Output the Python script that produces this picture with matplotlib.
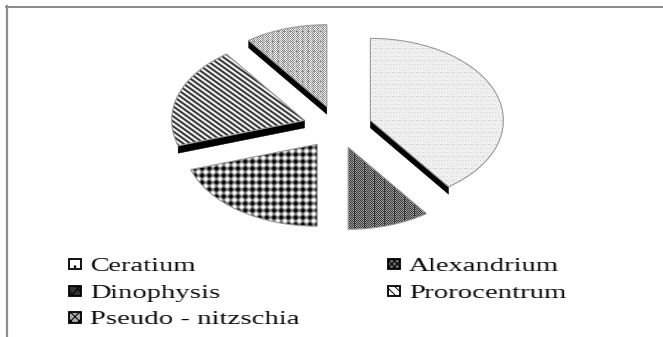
import numpy as np
import matplotlib
matplotlib.use('Agg')
import matplotlib.pyplot as plt
from matplotlib.lines import Line2D
from matplotlib.patches import Patch, Polygon

plt.rcParams['font.family'] = ['Liberation Serif', 'DejaVu Serif']
plt.rcParams['hatch.linewidth'] = 0.7

species = ['Ceratium', 'Alexandrium', 'Dinophysis', 'Prorocentrum', 'Pseudo - nitzschia']
share = [40, 10, 20, 20, 10]
gap = [0.26, 0.26, 0.26, 0.26, 0.26]

W, H = 663, 337
RX, RY = 133.0, 82.0
CX, CY = 337.5, 127.0


def widen(img, dpi):
    # legend text is set wide, stretch the drawn glyphs sideways
    h, w, d = img.shape
    new_w = int(w * 1.47)
    pos = np.linspace(0, w - 1, new_w)
    out = np.zeros((h, new_w, d), dtype=img.dtype)
    for row in range(h):
        for c in range(d):
            out[row, :, c] = np.interp(pos, np.arange(w), img[row, :, c])
    return out, 0, 0


# pixel textures for the slices
yy, xx = np.mgrid[0:H, 0:W]

tex_cer = np.full((H, W), 242.0)
tex_cer[(yy % 4 == 0) & (xx % 3 == 0)] = 205
tex_cer[(yy % 4 == 2) & (xx % 3 == 1)] = 222
tex_cer[(yy % 12 == 0) & (xx % 2 == 0)] = 215

tex_alx = 105 + 45 * ((xx + yy) % 2 * 2 - 1.0) + 8 * np.cos(2 * np.pi * yy / 3)
tex_alx[(xx % 10 == 3) & (yy % 2 == 0)] = 175
tex_alx[(xx % 10 == 4) & (yy % 2 == 1)] = 45

a = 0.5 + 0.5 * np.cos(2 * np.pi * xx / 7.2)
b = 0.5 + 0.5 * np.cos(2 * np.pi * yy / 7.0)
tex_din = 255 * (1 - np.clip((a + b) * 0.62 - 0.12, 0, 1))

tex_pro = 150 + 105 * np.cos(2 * np.pi * (xx / 7.0 - yy / 5.0))

tex_pse = 190 + 42 * ((xx + yy) % 2 * 2 - 1.0) + 14 * np.cos(2 * np.pi * xx / 5)
tex_pse[(xx % 6 == 2) & (yy % 5 == 1)] = 105

textures = [tex_cer, tex_alx, tex_din, tex_pro, tex_pse]

fig = plt.figure(figsize=(W / 100, H / 100), dpi=100, facecolor='white')
ax = fig.add_axes([0, 0, 1, 1])

wedges, _ = ax.pie(share, explode=gap, startangle=90, counterclock=False,
                   wedgeprops={'facecolor': 'none', 'edgecolor': '#999999',
                               'linewidth': 0.8, 'zorder': 4})
ax.set_aspect('auto')
xlim = (-CX / RX, (W - CX) / RX)
ylim = (-(H - CY) / RY, CY / RY)

for w, tex in zip(wedges, textures):
    im = ax.imshow(tex, cmap='gray', vmin=0, vmax=255, interpolation='nearest',
                   extent=(xlim[0], xlim[1], ylim[0], ylim[1]), origin='upper',
                   aspect='auto', zorder=3)
    im.set_clip_path(w)

# black side faces along the cut edges that look downward
depth = 7.5 / RY
for idx, attr in [(0, 'theta1'), (3, 'theta2'), (4, 'theta2')]:
    w = wedges[idx]
    t = np.deg2rad(getattr(w, attr))
    x0, y0 = w.center
    x1, y1 = x0 + w.r * np.cos(t), y0 + w.r * np.sin(t)
    ax.add_patch(Polygon([(x0, y0), (x1, y1), (x1, y1 - depth), (x0, y0 - depth)],
                         closed=True, facecolor='black', edgecolor='black',
                         linewidth=0.3, zorder=2))

ax.set_xlim(*xlim)
ax.set_ylim(*ylim)
ax.axis('off')

# outer frame, top and left only
fig.add_artist(Line2D([6 / W, 1], [1 - 6.8 / H, 1 - 6.8 / H], color='#808080', lw=1.3))
fig.add_artist(Line2D([7 / W, 7 / W], [0, 1 - 6 / H], color='#8c8c8c', lw=1.6))

swatch = {
    'Ceratium': ('white', '..'),
    'Alexandrium': ('#666666', 'xxxxxx'),
    'Dinophysis': ('#333333', 'XXX'),
    'Prorocentrum': ('white', '\\\\\\\\'),
    'Pseudo - nitzschia': ('#aaaaaa', 'xxxx'),
}
order = ['Ceratium', 'Dinophysis', 'Pseudo - nitzschia', 'Alexandrium', 'Prorocentrum']
handles = [Patch(facecolor=swatch[n][0], hatch=swatch[n][1], edgecolor='black',
                 linewidth=1.3, label=n) for n in order]
leg = ax.legend(handles=handles, ncol=2, frameon=False, fontsize=14,
                loc='upper left', bbox_to_anchor=(69 / W, 1 - 258 / H),
                bbox_transform=fig.transFigure, borderpad=0, borderaxespad=0,
                handlelength=0.62, handleheight=0.46, handletextpad=0.46,
                labelspacing=0.5, columnspacing=8.0)
for t in leg.get_texts():
    t.set_color('black')
    t.set_agg_filter(widen)

fig.savefig('out.png', dpi=100, facecolor='white')
